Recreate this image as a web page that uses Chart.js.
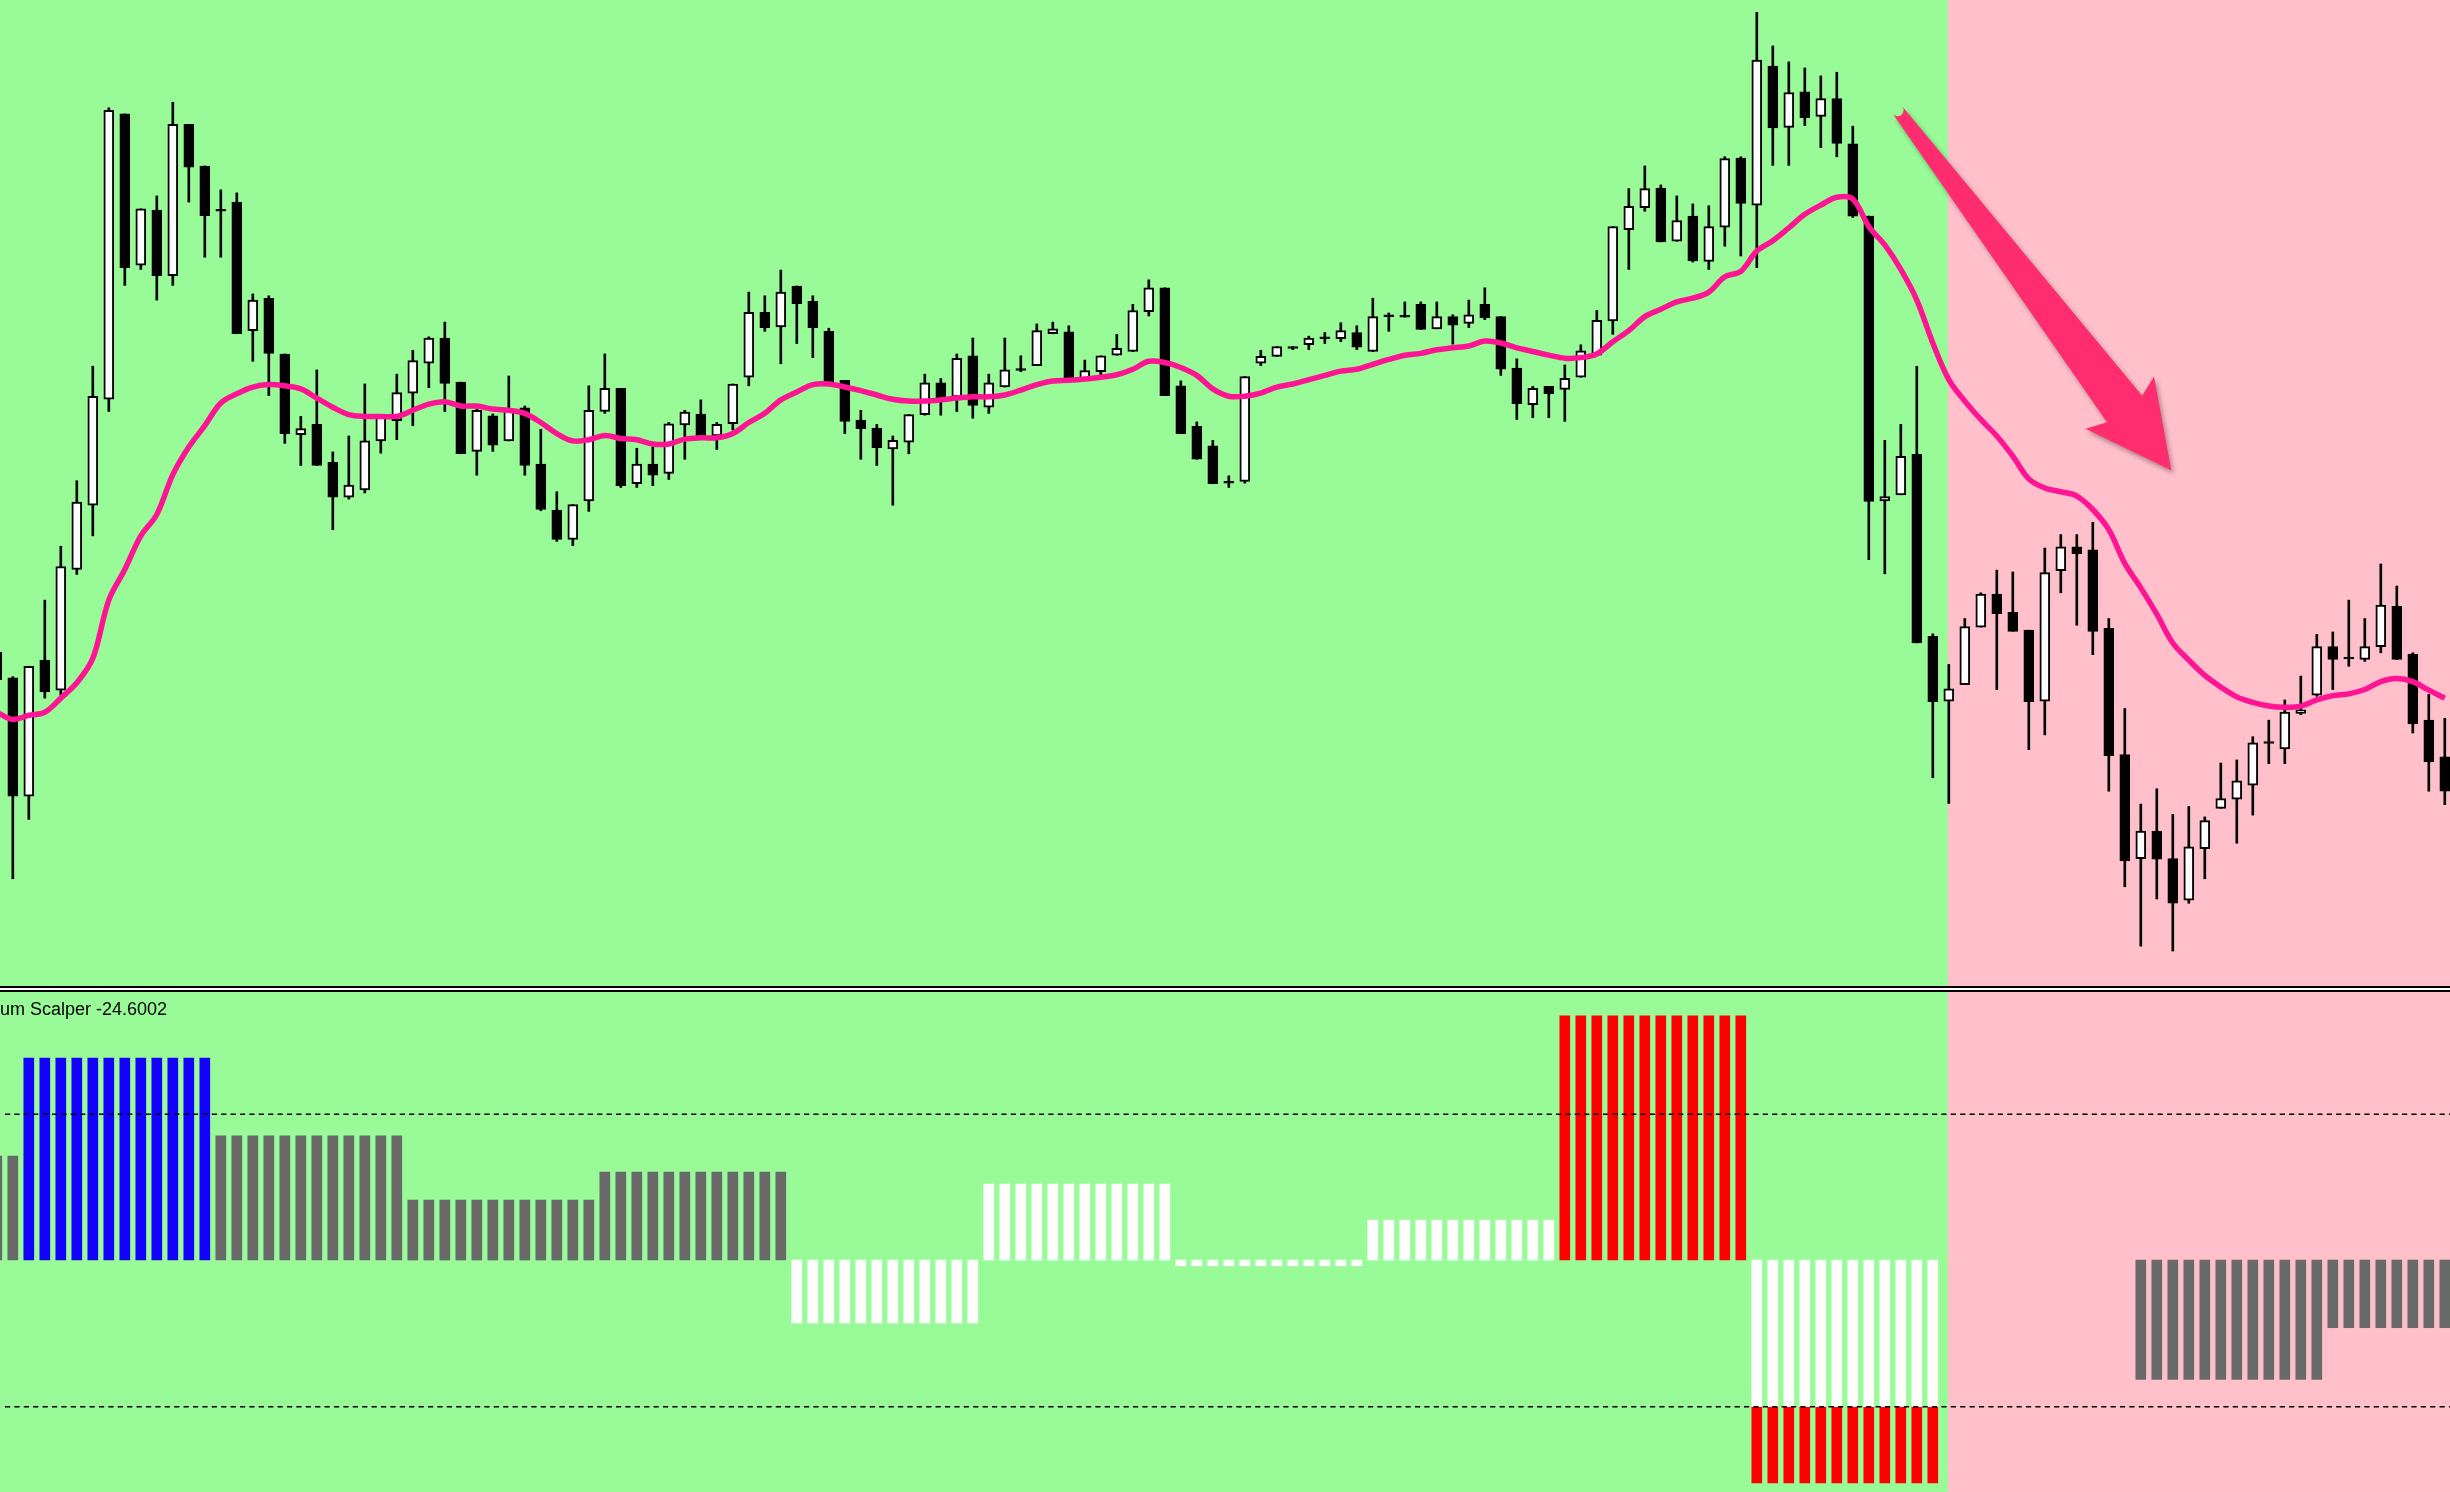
<!DOCTYPE html>
<html><head><meta charset="utf-8">
<script src="https://cdn.jsdelivr.net/npm/chart.js@4.4.1/dist/chart.umd.min.js"></script>
<style>
html,body{margin:0;padding:0;width:2450px;height:1492px;overflow:hidden;background:#98FB98;}
#top{position:absolute;left:0;top:0;}
#bot{position:absolute;left:0;top:992px;}
.sep{position:absolute;left:0;width:2450px;}
#label{position:absolute;left:0;top:1000px;font-family:"Liberation Sans",Arial,sans-serif;font-size:18px;line-height:18px;color:#000;white-space:nowrap;}
</style></head><body>
<canvas id="top" width="2450" height="986"></canvas>
<div class="sep" style="top:986px;height:2px;background:#000"></div>
<div class="sep" style="top:988px;height:2px;background:#fff"></div>
<div class="sep" style="top:990px;height:2px;background:#000"></div>
<canvas id="bot" width="2450" height="500"></canvas>
<div id="label">um Scalper -24.6002</div>
<script>
// ---------- DATA (bar index starts at firstIndex) ----------
const firstIndex = -1;
const openP = [
535,493,300,522,473,670,775,948,1414,1167,
1257,1150,1397,1329,1258,1270,1060,1113,1022,890,
907,845,788,800,880,913,958,1007,1048,976,
863,921,880,934,842,767,719,782,928,966,
810,842,827,906,924,888,908,984,1090,1066,
1133,1108,1059,979,914,901,867,878,923,975,
952,1019,935,968,998,1003,1055,1058,980,993,
1020,1026,1091,1130,970,904,872,814,814,1007,
1018,1034,1037,1050,1047,1057,1026,1086,1085,1103,
1063,1083,1072,1103,1083,999,939,969,964,984,
1020,1076,1225,1261,1293,1206,1247,1173,1229,1342,
1265,1492,1392,1450,1410,1439,1365,1247,782,792,
858,561,455,482,576,630,600,571,455,668,
707,702,574,368,198,243,198,130,214,280,
295,318,389,377,435,465,544,527,523,544,
610,532,424,364];
const highP = [
540,495,512,620,708,815,1002,1424,1414,1259,
1280,1433,1397,1329,1290,1285,1120,1117,1022,920,
996,862,888,973,922,989,1028,1050,1074,976,
932,924,986,937,899,797,776,970,1022,966,
868,870,910,930,947,910,973,1123,1117,1159,
1133,1117,1064,979,930,907,888,923,989,982,
1022,1048,989,1048,1019,1071,1074,1068,1012,1019,
1054,1103,1143,1130,978,911,881,823,985,1028,
1034,1034,1051,1057,1073,1068,1113,1089,1107,1107,
1107,1086,1110,1130,1083,1014,969,969,1004,1037,
1093,1230,1292,1329,1298,1280,1267,1264,1344,1344,
1580,1525,1499,1489,1476,1482,1394,1247,881,907,
1002,565,515,590,632,669,666,571,705,727,
727,747,590,443,287,312,270,283,266,354,
359,397,424,457,496,564,568,620,590,679,
643,534,466,427];
const lowP = [
485,165,262,460,465,662,725,928,1134,1160,
1110,1134,1270,1180,1180,1055,1010,954,876,840,
840,735,785,795,860,882,905,967,928,859,
824,863,880,824,766,716,709,765,925,804,
804,807,817,850,888,866,898,970,1059,1006,
1039,1016,974,892,850,840,775,859,922,922,
928,917,925,968,993,1003,1055,980,978,986,
1020,1026,1084,954,892,850,810,804,811,1003,
1018,1029,1029,1039,1042,1029,1026,1059,1082,1062,
1063,1038,1065,1078,987,915,918,918,912,984,
1020,1054,1160,1255,1205,1206,1172,1160,1198,1182,
1163,1330,1330,1395,1359,1344,1245,686,663,792,
550,330,288,482,576,474,569,376,400,632,
579,531,308,152,55,132,47,125,165,280,
223,269,353,353,433,463,474,512,520,534,
523,403,308,286];
const closeP = [
490,300,512,470,675,780,953,1420,1163,1259,
1150,1397,1327,1248,1255,1055,1110,1023,892,900,
840,788,808,880,920,959,1011,1048,974,859,
930,873,930,840,768,719,776,930,966,807,
842,824,908,927,888,907,973,1090,1065,1123,
1104,1065,974,912,900,869,881,923,975,947,
1015,938,975,996,995,1060,1063,983,995,1019,
1031,1093,1130,954,892,850,810,811,985,1018,
1034,1031,1048,1047,1060,1033,1083,1083,1082,1062,
1083,1069,1086,1081,997,941,966,957,982,1027,
1077,1230,1263,1292,1205,1240,1174,1230,1341,1268,
1502,1391,1449,1408,1439,1366,1247,781,789,855,
550,454,475,577,630,598,569,454,665,707,
696,569,366,194,243,197,125,217,260,296,
325,387,386,437,441,544,523,524,544,612,
523,418,356,308];
const maLine = [
437,425,432,437,460,485,525,620,670,725,
760,825,870,905,942,957,968,972,970,965,
950,935,923,920,920,920,930,940,944,937,
937,932,930,925,910,892,880,882,889,884,
882,875,875,883,885,885,892,910,925,947,
960,972,973,968,962,955,948,945,945,947,
950,952,952,955,963,972,978,979,981,984,
988,997,1010,1008,1000,987,965,953,953,958,
968,973,980,987,994,997,1005,1013,1020,1023,
1029,1032,1035,1043,1040,1032,1026,1020,1015,1016,
1022,1042,1060,1083,1095,1107,1113,1123,1148,1157,
1190,1207,1228,1250,1265,1278,1275,1230,1200,1160,
1110,1040,980,945,915,888,855,818,803,797,
790,768,735,680,640,597,550,522,497,478,
462,453,447,445,447,457,464,467,474,487,
492,487,473,460];
// Momentum Scalper histogram
const histValue = [
37.8,37.8,73.4,73.4,73.4,73.4,73.4,73.4,73.4,73.4,
73.4,73.4,73.4,73.4,45.1,45.1,45.1,45.1,45.1,45.1,
45.1,45.1,45.1,45.1,45.1,45.1,21.8,21.8,21.8,21.8,
21.8,21.8,21.8,21.8,21.8,21.8,21.8,21.8,32.0,32.0,
32.0,32.0,32.0,32.0,32.0,32.0,32.0,32.0,32.0,32.0,
-22.9,-22.9,-22.9,-22.9,-22.9,-22.9,-22.9,-22.9,-22.9,-22.9,
-22.9,-22.9,27.6,27.6,27.6,27.6,27.6,27.6,27.6,27.6,
27.6,27.6,27.6,27.6,-2.1,-2.1,-2.1,-2.1,-2.1,-2.1,
-2.1,-2.1,-2.1,-2.1,-2.1,-2.1,14.5,14.5,14.5,14.5,
14.5,14.5,14.5,14.5,14.5,14.5,14.5,14.5,88.7,88.7,
88.7,88.7,88.7,88.7,88.7,88.7,88.7,88.7,88.7,88.7,
-53.3,-53.3,-53.3,-53.3,-53.3,-53.3,-53.3,-53.3,-53.3,-53.3,
-53.3,-53.3,null,null,null,null,null,null,null,null,
null,null,null,null,-43.4,-43.4,-43.4,-43.4,-43.4,-43.4,
-43.4,-43.4,-43.4,-43.4,-43.4,-43.4,-24.6002,-24.6002,-24.6002,-24.6002,
-24.6002,-24.6002,-24.6002,-24.6002];
const histColor = [
'g','g','b','b','b','b','b','b','b','b',
'b','b','b','b','g','g','g','g','g','g',
'g','g','g','g','g','g','g','g','g','g',
'g','g','g','g','g','g','g','g','g','g',
'g','g','g','g','g','g','g','g','g','g',
'w','w','w','w','w','w','w','w','w','w',
'w','w','w','w','w','w','w','w','w','w',
'w','w','w','w','w','w','w','w','w','w',
'w','w','w','w','w','w','w','w','w','w',
'w','w','w','w','w','w','w','w','r','r',
'r','r','r','r','r','r','r','r','r','r',
'w','w','w','w','w','w','w','w','w','w',
'w','w',null,null,null,null,null,null,null,null,
null,null,null,null,'g','g','g','g','g','g',
'g','g','g','g','g','g','g','g','g','g',
'g','g','g','g'];
const histTail = [
null,null,null,null,null,null,null,null,null,null,
null,null,null,null,null,null,null,null,null,null,
null,null,null,null,null,null,null,null,null,null,
null,null,null,null,null,null,null,null,null,null,
null,null,null,null,null,null,null,null,null,null,
null,null,null,null,null,null,null,null,null,null,
null,null,null,null,null,null,null,null,null,null,
null,null,null,null,null,null,null,null,null,null,
null,null,null,null,null,null,null,null,null,null,
null,null,null,null,null,null,null,null,null,null,
null,null,null,null,null,null,null,null,null,null,
-81,-81,-81,-81,-81,-81,-81,-81,-81,-81,
-81,-81,null,null,null,null,null,null,null,null,
null,null,null,null,null,null,null,null,null,null,
null,null,null,null,null,null,null,null,null,null,
null,null,null,null];
const levelHigh = 53;
const levelLow = -53.3;
const regimeSwitch = 120.95;          // bar index where background turns pink
const arrowTail = {x:117.8, y:1420};  // annotation arrow in data coordinates
const arrowTip  = {x:134.9, y:832};

// ---------- STYLE ----------
const C = {green:'#98FB98', pink:'#FFC0CB', gray:'#696969', blue:'#1400FF', white:'#FFFFFF', red:'#FF0000', ma:'#FF1493', arrow:'#FF2D6F', black:'#000000'};
const X_MIN = -0.8, X_MAX = 152.325;
const colorOf = {g:C.gray, b:C.blue, w:C.white, r:C.red};

const bgPlugin = {id:'bg', beforeDraw(chart){
  const {ctx, scales:{x}} = chart;
  const px = x.getPixelForValue(regimeSwitch);
  ctx.save();
  ctx.fillStyle = C.green; ctx.fillRect(0, 0, px, chart.height);
  ctx.fillStyle = C.pink; ctx.fillRect(px, 0, chart.width - px, chart.height);
  ctx.restore();
}};

const arrowPlugin = {id:'arrow', afterDatasetsDraw(chart){
  const {ctx, scales:{x, y}} = chart;
  const tx = x.getPixelForValue(arrowTail.x), ty = y.getPixelForValue(arrowTail.y);
  const px = x.getPixelForValue(arrowTip.x), py = y.getPixelForValue(arrowTip.y);
  const dx = px - tx, dy = py - ty, L = Math.hypot(dx, dy);
  const ux = dx / L, uy = dy / L, nx = -uy, ny = ux;
  const tailW = 6, neckBack = 77, neckW = 22, barbBack = 85, barbW = 43;
  const P = (a, b) => [px - ux * a + nx * b, py - uy * a + ny * b];
  ctx.save();
  ctx.shadowColor = 'rgba(0,0,0,0.35)'; ctx.shadowBlur = 5; ctx.shadowOffsetX = 2; ctx.shadowOffsetY = 3;
  ctx.fillStyle = C.arrow;
  ctx.beginPath();
  ctx.moveTo(tx + nx * tailW, ty + ny * tailW);
  ctx.lineTo(...P(neckBack, neckW));
  ctx.lineTo(...P(barbBack, barbW));
  ctx.lineTo(px, py);
  ctx.lineTo(...P(barbBack, -barbW));
  ctx.lineTo(...P(neckBack, -neckW));
  ctx.lineTo(tx - nx * tailW, ty - ny * tailW);
  const a0 = Math.atan2(-ny, -nx);
  ctx.arc(tx, ty, tailW, a0, a0 + Math.PI, false);
  ctx.closePath();
  ctx.fill();
  ctx.restore();
}};

// ---------- TOP CHART ----------
const idx = openP.map((_, k) => firstIndex + k);
const wickData = idx.map((xv, k) => ({x: xv, y: [lowP[k], highP[k]]}));
const bodyData = idx.map((xv, k) => ({x: xv, y: [openP[k], closeP[k]]}));
const bodyColors = idx.map((_, k) => closeP[k] > openP[k] ? C.white : C.black);
const maData = idx.map((xv, k) => ({x: xv, y: maLine[k]}));

new Chart(document.getElementById('top'), {
  type: 'bar',
  data: {datasets: [
    {type:'line', data: maData, borderColor: C.ma, borderWidth: 5.5, pointRadius: 0, tension: 0.35, order: 0},
    {data: bodyData, backgroundColor: bodyColors, borderColor: C.black, borderWidth: 2, borderSkipped: false, barThickness: 10, grouped: false, order: 1},
    {data: wickData, backgroundColor: C.black, borderWidth: 0, barThickness: 2, grouped: false, order: 2}
  ]},
  options: {
    responsive: false, animation: false, devicePixelRatio: 1,
    layout: {padding: 0},
    plugins: {legend: {display: false}, tooltip: {enabled: false}},
    scales: {
      x: {type: 'linear', min: X_MIN, max: X_MAX, offset: false, display: false},
      y: {type: 'linear', min: -10.1, max: 1600, display: false}
    }
  },
  plugins: [bgPlugin, arrowPlugin]
});

// ---------- BOTTOM CHART ----------
const histData = [], histBg = [], tailData = [];
idx.forEach((xv, k) => {
  if (histValue[k] !== null) { histData.push({x: xv, y: [0, histValue[k]]}); histBg.push(colorOf[histColor[k]]); }
  if (histTail[k] !== null) tailData.push({x: xv, y: [levelLow, histTail[k]]});
});
const lvlStart = -0.49;
new Chart(document.getElementById('bot'), {
  type: 'bar',
  data: {datasets: [
    {type:'line', data: [{x: lvlStart, y: levelHigh}, {x: X_MAX, y: levelHigh}], borderColor: C.black, borderWidth: 1.6, borderDash: [5.2, 4.2], pointRadius: 0, order: 0},
    {type:'line', data: [{x: lvlStart, y: levelLow}, {x: X_MAX, y: levelLow}], borderColor: C.black, borderWidth: 1.6, borderDash: [5.2, 4.2], pointRadius: 0, order: 0},
    {data: histData, backgroundColor: histBg, borderWidth: 0, barThickness: 10, grouped: false, order: 1},
    {data: tailData, backgroundColor: C.red, borderWidth: 0, barThickness: 10, grouped: false, order: 2}
  ]},
  options: {
    responsive: false, animation: false, devicePixelRatio: 1,
    layout: {padding: 0},
    plugins: {legend: {display: false}, tooltip: {enabled: false}},
    scales: {
      x: {type: 'linear', min: X_MIN, max: X_MAX, offset: false, display: false},
      y: {type: 'linear', min: -84.3, max: 97.4, display: false}
    }
  },
  plugins: [bgPlugin]
});
</script>
</body></html>
